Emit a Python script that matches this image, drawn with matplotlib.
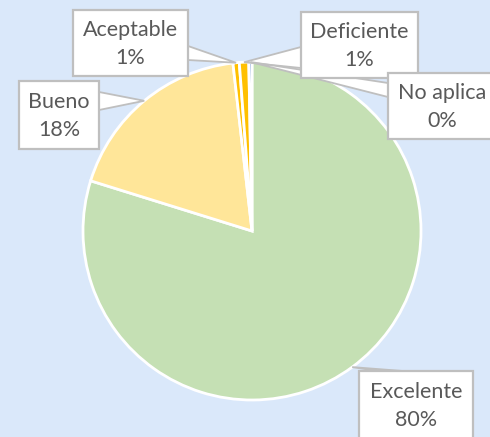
import matplotlib
matplotlib.use("Agg")
import matplotlib.pyplot as plt
from matplotlib.patches import Rectangle, Polygon
import numpy as np

categories = ["Excelente", "Bueno", "Aceptable", "Deficiente", "No aplica"]
values = [79.8, 18.4, 0.6, 0.9, 0.3]
colors = ["#C5E0B4", "#FFE699", "#FFC000", "#FFC000", "#4472C4"]

W, H = 490, 437
fig = plt.figure(figsize=(W / 100, H / 100), dpi=100)
fig.patch.set_facecolor("#DAE8FA")

# pie axes: center (252,231) px, radius 169 px
cx, cy, r = 252, 231, 169
ax = fig.add_axes([(cx - r) / W, (H - cy - r) / H, 2 * r / W, 2 * r / H])
wedges, _ = ax.pie(values, colors=colors, startangle=90, counterclock=False,
                   radius=1.0, wedgeprops=dict(edgecolor="white", linewidth=2.0))
ax.set_xlim(-1.0, 1.0)
ax.set_ylim(-1.0, 1.0)
ax.set_aspect("auto")
ax.axis("off")

ov = fig.add_axes([0, 0, 1, 1])
ov.set_xlim(0, W)
ov.set_ylim(H, 0)
ov.axis("off")
ov.patch.set_alpha(0)

# label boxes (x0, y0, x1, y1) in pixels and leader base points
boxes = {
    "Excelente": ((359, 371, 473, 439), [(378, 371), (403, 371)]),
    "Bueno": ((19, 81, 99, 149), [(99, 92), (99, 110)]),
    "Aceptable": ((73, 10, 188, 76), [(188, 46), (188, 60)]),
    "Deficiente": ((301, 12, 418, 78), [(301, 47), (301, 68)]),
    "No aplica": ((388, 73, 496, 139), [(388, 83), (388, 97)]),
}

inv = ov.transData.inverted()
for w, cat, v in zip(wedges, categories, values):
    mid = np.deg2rad((w.theta1 + w.theta2) / 2)
    tip_disp = ax.transData.transform((np.cos(mid) * 1.0, np.sin(mid) * 1.0))
    tx, ty = inv.transform(tip_disp)
    (x0, y0, x1, y1), base = boxes[cat]
    poly = Polygon([base[0], (tx, ty), base[1]], closed=True, facecolor="white",
                   edgecolor="#BFBFBF", linewidth=1.3, zorder=2)
    ov.add_patch(poly)
    ov.add_patch(Rectangle((x0, y0), x1 - x0, y1 - y0, facecolor="white",
                           edgecolor="#BFBFBF", linewidth=1.6, zorder=3))
    ov.text((x0 + x1) / 2, (y0 + y1) / 2 + 1, f"{cat}\n{round(v)}%", ha="center",
            va="center", fontsize=15.5, color="#595959", family="Lato",
            linespacing=1.55, zorder=4)

fig.savefig("out.png", dpi=100, facecolor=fig.get_facecolor())
